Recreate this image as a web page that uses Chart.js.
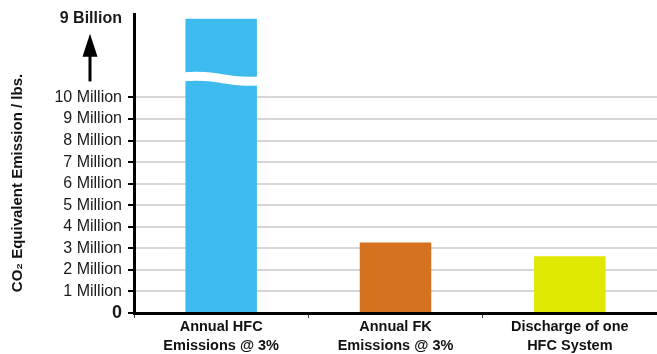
<!DOCTYPE html>
<html>
<head>
<meta charset="utf-8">
<script src="https://cdn.jsdelivr.net/npm/chart.js@4"></script>
<style>
  html, body { margin: 0; padding: 0; background: #fff; }
  #wrap { width: 657px; height: 354px; position: relative; }
</style>
</head>
<body>
<div id="wrap"><canvas id="graph"></canvas></div>
<script>
// data (emissions in millions of lbs CO2 equivalent)
const categories = [
  ['Annual HFC', 'Emissions @ 3%'],
  ['Annual FK', 'Emissions @ 3%'],
  ['Discharge of one', 'HFC System']
];
const emissions = [9000, 3.27, 2.63];
const barColors = ['#3dbbee', '#d4721f', '#dfe800'];
const millionTicks = [0, 1, 2, 3, 4, 5, 6, 7, 8, 9, 10];
const breakValue = 13.65;      // where the broken axis shows "9 Billion"
const breakLabel = '9 Billion';
const axisMax = 13.87;
const yTitle = 'CO\u2082 Equivalent Emission / lbs.';

// bars taller than the break are cut at the break
const shown = emissions.map(v => Math.min(v, breakValue));

// draws the wavy cut on the tall bar, the arrow on the axis and the axis title
const breakPlugin = {
  id: 'breakMarks',
  afterDatasetsDraw(chart) {
    const ctx = chart.ctx;
    const y = chart.scales.y;
    const meta = chart.getDatasetMeta(0);
    meta.data.forEach((bar, i) => {
      if (emissions[i] <= breakValue) return;
      const L = bar.x - bar.width / 2 - 1;
      const R = bar.x + bar.width / 2 + 1;
      const w = R - L;
      const y0 = y.getPixelForValue(10) - 25;
      const t = 9;
      ctx.save();
      ctx.fillStyle = '#fff';
      ctx.beginPath();
      ctx.moveTo(L, y0);
      ctx.bezierCurveTo(L + w * 0.45, y0 - 3, L + w * 0.55, y0 + 6, R, y0 + 4);
      ctx.lineTo(R, y0 + 4 + t);
      ctx.bezierCurveTo(L + w * 0.55, y0 + 6 + t, L + w * 0.45, y0 - 3 + t, L, y0 + t);
      ctx.closePath();
      ctx.fill();
      ctx.restore();
    });
  },
  afterDraw(chart) {
    const ctx = chart.ctx;
    const y = chart.scales.y;
    const x = chart.chartArea.left - 44;
    const tip = y.getPixelForValue(breakValue) + 15;
    const bottom = y.getPixelForValue(10) - 16;
    ctx.save();
    ctx.fillStyle = '#000';
    ctx.fillRect(x - 1.5, tip + 20, 3, bottom - tip - 20);
    ctx.beginPath();
    ctx.moveTo(x, tip);
    ctx.lineTo(x + 7.5, tip + 23);
    ctx.lineTo(x - 7.5, tip + 23);
    ctx.closePath();
    ctx.fill();

    // axis title
    ctx.translate(18, 183);
    ctx.rotate(-Math.PI / 2);
    ctx.fillStyle = '#111';
    ctx.font = 'bold 15px "Liberation Sans", Arial, sans-serif';
    ctx.textAlign = 'center';
    ctx.textBaseline = 'middle';
    ctx.fillText(yTitle, 0, 0);
    ctx.restore();
  }
};

const config = {
  type: 'bar',
  data: {
    labels: categories,
    datasets: [{
      data: shown,
      backgroundColor: barColors,
      barPercentage: 0.41,
      categoryPercentage: 1
    }]
  },
  options: {
    responsive: true,
    maintainAspectRatio: false,
    animation: false,
    layout: { padding: { top: 11, left: 0, right: 0, bottom: 0 } },
    plugins: { legend: { display: false }, tooltip: { enabled: false } },
    scales: {
      x: {
        offset: true,
        grid: {
          display: true,
          offset: true,
          drawOnChartArea: false,
          tickLength: 5,
          color: '#444',
          lineWidth: 1
        },
        border: { display: true, color: '#000', width: 3 },
        ticks: {
          color: '#111',
          padding: 0,
          maxRotation: 0,
          font: { family: 'Liberation Sans', weight: 'bold', size: 14.5, lineHeight: 1.3 }
        },
        afterFit(scale) { scale.height = 41; }
      },
      y: {
        min: 0,
        max: axisMax,
        afterBuildTicks(scale) {
          scale.ticks = millionTicks.concat([breakValue]).map(v => ({ value: v }));
        },
        grid: {
          color: ctx => ctx.tick && ctx.tick.value === breakValue ? 'rgba(0,0,0,0)' : '#d6d6d6',
          tickColor: ctx => ctx.tick && ctx.tick.value === breakValue ? 'rgba(0,0,0,0)' : '#000',
          lineWidth: 2,
          tickWidth: 2,
          tickLength: 6
        },
        border: { display: true, color: '#000', width: 3 },
        ticks: {
          padding: 6,
          color: '#1a1a1a',
          font: ctx => {
            const v = ctx.tick ? ctx.tick.value : 1;
            if (v === breakValue) return { family: 'Liberation Sans', weight: 'bold', size: 16, lineHeight: 1 };
            if (v === 0) return { family: 'Liberation Sans', weight: 'bold', size: 18, lineHeight: 1 };
            return { family: 'Liberation Sans', size: 16, lineHeight: 1 };
          },
          callback: v => v === breakValue ? breakLabel : (v === 0 ? '0' : v + ' Million')
        },
        afterFit(scale) { scale.width = 134; }
      }
    }
  },
  plugins: [breakPlugin]
};

const emissionChart = new Chart(document.getElementById('graph'), config);
</script>
</body>
</html>
